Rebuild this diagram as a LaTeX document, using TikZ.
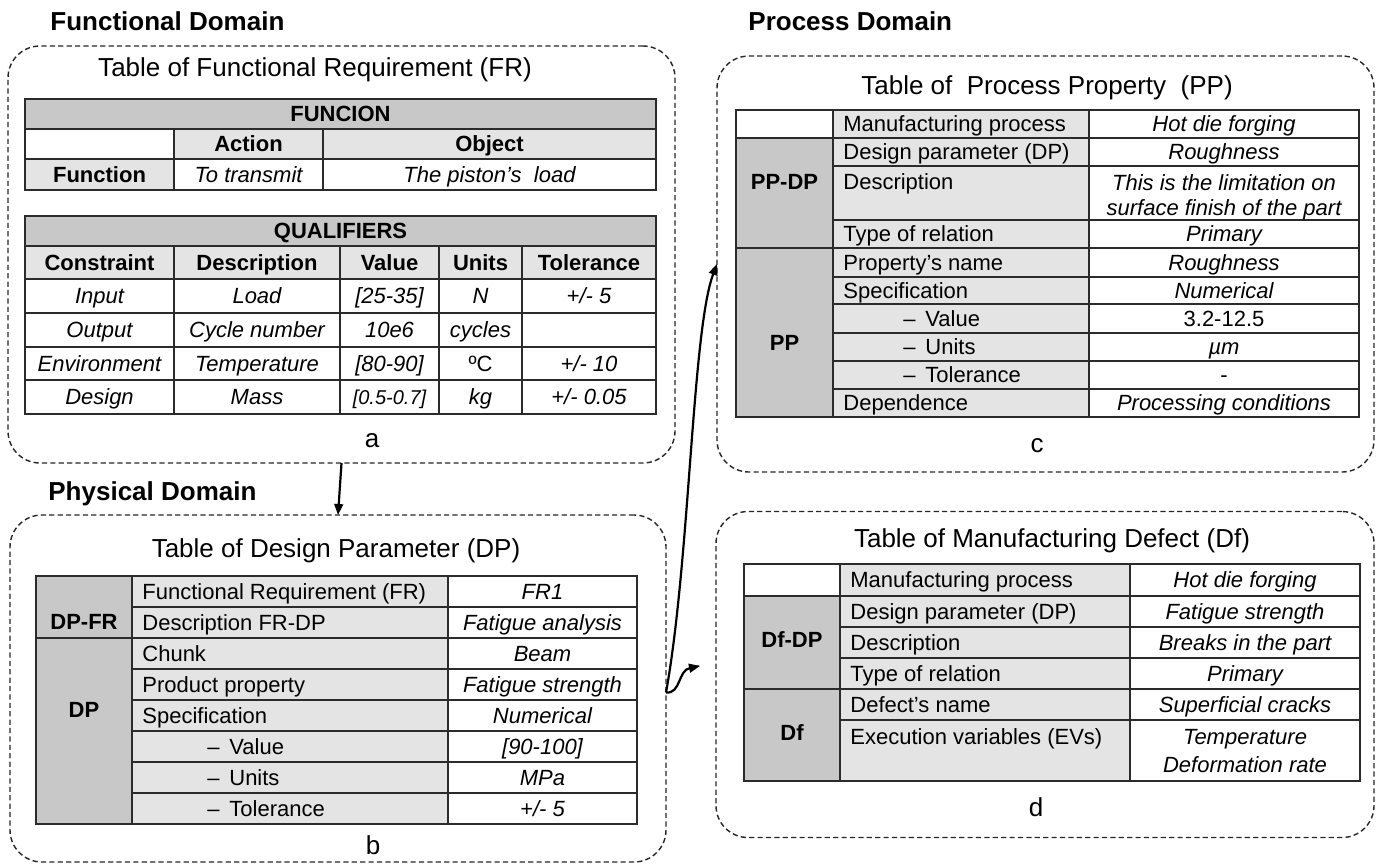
\documentclass[tikz,border=0pt]{standalone}
\usepackage{fontspec}
\setmainfont{Liberation Sans}
\usetikzlibrary{arrows.meta}

\definecolor{hdr}{HTML}{C8C8C8}
\definecolor{lab}{HTML}{E4E4E4}
\definecolor{ink}{HTML}{2B2B2B}

\tikzset{
  grid/.style={draw=ink, line width=0.7pt},
  dom/.style={draw=black!85, line width=0.7pt, dash pattern=on 2.6pt off 1.6pt,
              rounded corners=16pt, inner sep=0pt, outer sep=0pt},
  head/.style={font=\bfseries\fontsize{13}{15}\selectfont, anchor=west,
               inner sep=0pt, text height=9.3pt, text depth=0pt},
  ttl/.style={font=\fontsize{13}{15}\selectfont, inner sep=0pt,
              text height=9.3pt, text depth=0pt},
  letter/.style={font=\fontsize{13}{15}\selectfont, inner sep=0pt, anchor=base},
  tx/.style={font=\fontsize{11}{13}\selectfont, inner sep=0pt,
             text height=7.9pt, text depth=0pt},
  tb/.style={tx, font=\bfseries\fontsize{11}{13}\selectfont},
  ti/.style={tx, font=\itshape\fontsize{11}{13}\selectfont},
  tl/.style={tx, anchor=west},
  twoc/.style={font=\itshape\fontsize{11}{12.5}\selectfont, align=center, inner sep=0pt},
  twod/.style={font=\itshape\fontsize{11}{14}\selectfont, align=center, inner sep=0pt},
  arr/.style={-{Triangle[length=5.5pt,width=4.4pt]}, line width=1.1pt, draw=black},
}

% one table cell: fill colour, corners
\newcommand\cellrect[5]{\filldraw[grid,fill=#1] (#2,#3) rectangle (#4,#5);}
% indented sub-item label
\newcommand\dashitem[1]{\makebox[11pt][l]{–}#1}

\begin{document}
\begin{tikzpicture}[x=0.5pt, y=-0.5pt]
\useasboundingbox (0,0) rectangle (1379,864);

% ---------------- domain frames and headings ----------------
\node[dom, minimum width=333.5pt, minimum height=208.5pt] (boxa) at (341.5,254.5) {};
\node[dom, minimum width=328pt, minimum height=173.5pt] (boxb) at (338,688.5) {};
\node[dom, minimum width=328.5pt, minimum height=208pt] (boxc) at (1045.5,264) {};
\node[dom, minimum width=329pt, minimum height=163pt] (boxd) at (1045,674.5) {};

\node[head] (hFun) at (50,21) {Functional Domain};
\node[head] (hPhy) at (48,491) {Physical Domain};
\node[head] (hPro) at (748,21) {Process Domain};

% ---------------- (a) functional requirement ----------------
\node[ttl] (tA) at (315,67) {Table of Functional Requirement (FR)};

\cellrect{hdr}{25}{99}{656}{129}
\node[tb] (fnHead) at (340.5,114) {FUNCION};
\cellrect{white}{25}{129}{174}{159}
\cellrect{lab}{174}{129}{323}{159}
\node[tb] (fnAction) at (248.5,144) {Action};
\cellrect{lab}{323}{129}{656}{159}
\node[tb] (fnObject) at (489.5,144) {Object};
\cellrect{lab}{25}{159}{174}{190}
\node[tb] (fnFunction) at (99.5,174.5) {Function};
\cellrect{white}{174}{159}{323}{190}
\node[ti] (fnTransmit) at (248.5,174.5) {To transmit};
\cellrect{white}{323}{159}{656}{190}
\node[ti] (fnLoad) at (489.5,174.5) {The piston’s\ \ load};

\cellrect{hdr}{25}{216}{656}{246}
\node[tb] (qHead) at (340.5,231) {QUALIFIERS};
% header row
\cellrect{lab}{25}{246}{174}{279}
\cellrect{lab}{174}{246}{340}{279}
\cellrect{lab}{340}{246}{439}{279}
\cellrect{lab}{439}{246}{522}{279}
\cellrect{lab}{522}{246}{656}{279}
\node[tb] (qCon) at (99.5,262.5) {Constraint};
\node[tb] (qDes) at (257,262.5) {Description};
\node[tb] (qVal) at (389.5,262.5) {Value};
\node[tb] (qUni) at (480.5,262.5) {Units};
\node[tb] (qTol) at (589,262.5) {Tolerance};
% data rows
\foreach \ya/\yb in {279/313, 313/347, 347/380, 380/414}{
  \cellrect{white}{25}{\ya}{174}{\yb}
  \cellrect{white}{174}{\ya}{340}{\yb}
  \cellrect{white}{340}{\ya}{439}{\yb}
  \cellrect{white}{439}{\ya}{522}{\yb}
  \cellrect{white}{522}{\ya}{656}{\yb}
}
\node[ti] (q1a) at (99.5,296) {Input};
\node[ti] (q1b) at (257,296) {Load};
\node[ti] (q1c) at (389.5,296) {[25-35]};
\node[ti] (q1d) at (480.5,296) {N};
\node[ti] (q1e) at (589,296) {+/- 5};
\node[ti] (q2a) at (99.5,330) {Output};
\node[ti] (q2b) at (257,330) {Cycle number};
\node[ti] (q2c) at (389.5,330) {10e6};
\node[ti] (q2d) at (480.5,330) {cycles};
\node[ti] (q3a) at (99.5,363.5) {Environment};
\node[ti] (q3b) at (257,363.5) {Temperature};
\node[ti] (q3c) at (389.5,363.5) {[80-90]};
\node[tx] (q3d) at (480.5,363.5) {ºC};
\node[ti] (q3e) at (589,363.5) {+/- 10};
\node[ti] (q4a) at (99.5,397) {Design};
\node[ti] (q4b) at (257,397) {Mass};
\node[ti, font=\itshape\fontsize{10}{12}\selectfont, text height=7.2pt] (q4c) at (389.5,397) {[0.5-0.7]};
\node[ti] (q4d) at (480.5,397) {kg};
\node[ti] (q4e) at (589,397) {+/- 0.05};

\node[letter] (lA) at (372,447) {a};

% ---------------- (b) design parameter ----------------
\node[ttl] (tB) at (336,548) {Table of Design Parameter (DP)};

\cellrect{hdr}{36}{576}{132}{638}
\cellrect{hdr}{36}{638}{132}{824}
\node[tb] (bDPFR) at (84,622) {DP-FR};
\node[tb] (bDP) at (84,710) {DP};
\foreach \ya/\yb in {576/607, 607/638, 638/669, 669/700, 700/731, 731/762, 762/793, 793/824}{
  \cellrect{lab}{132}{\ya}{448}{\yb}
  \cellrect{white}{448}{\ya}{637}{\yb}
}
\node[tl] (b1l) at (142,591.5) {Functional Requirement (FR)};
\node[tl] (b2l) at (142,622.5) {Description FR-DP};
\node[tl] (b3l) at (142,653.5) {Chunk};
\node[tl] (b4l) at (142,684.5) {Product property};
\node[tl] (b5l) at (142,715.5) {Specification};
\node[tl] (b6l) at (207,746.5) {\dashitem{Value}};
\node[tl] (b7l) at (207,777.5) {\dashitem{Units}};
\node[tl] (b8l) at (207,808.5) {\dashitem{Tolerance}};
\node[ti] (b1v) at (542.5,591.5) {FR1};
\node[ti] (b2v) at (542.5,622.5) {Fatigue analysis};
\node[ti] (b3v) at (542.5,653.5) {Beam};
\node[ti] (b4v) at (542.5,684.5) {Fatigue strength};
\node[ti] (b5v) at (542.5,715.5) {Numerical};
\node[ti] (b6v) at (542.5,746.5) {[90-100]};
\node[ti] (b7v) at (542.5,777.5) {MPa};
\node[ti] (b8v) at (542.5,808.5) {+/- 5};

\node[letter] (lB) at (373,854) {b};

% ---------------- (c) process property ----------------
\node[ttl] (tC) at (1047,85) {Table of\ \ Process Property\ \ (PP)};

\cellrect{white}{736}{110}{833}{138}
\cellrect{hdr}{736}{138}{833}{248}
\cellrect{hdr}{736}{248}{833}{417}
\node[tb] (cPPDP) at (784.5,182) {PP-DP};
\node[tb] (cPP) at (784.5,343) {PP};
\foreach \ya/\yb in {110/138, 138/166, 166/220, 220/248, 248/277, 277/304, 304/333, 333/361, 361/389, 389/417}{
  \cellrect{lab}{833}{\ya}{1089}{\yb}
  \cellrect{white}{1089}{\ya}{1359}{\yb}
}
\node[tl] (c1l) at (843,124) {Manufacturing process};
\node[tl] (c2l) at (843,152) {Design parameter (DP)};
\node[tl] (c3l) at (843,182) {Description};
\node[tl] (c4l) at (843,234) {Type of relation};
\node[tl] (c5l) at (843,262.5) {Property’s name};
\node[tl] (c6l) at (843,290.5) {Specification};
\node[tl] (c7l) at (903,318.5) {\dashitem{Value}};
\node[tl] (c8l) at (903,347) {\dashitem{Units}};
\node[tl] (c9l) at (903,375) {\dashitem{Tolerance}};
\node[tl] (c10l) at (843,403) {Dependence};
\node[ti] (c1v) at (1224,124) {Hot die forging};
\node[ti] (c2v) at (1224,152) {Roughness};
\node[twoc] (c3v) at (1224,197) {This is the limitation on\\surface finish of the part};
\node[ti] (c4v) at (1224,234) {Primary};
\node[ti] (c5v) at (1224,262.5) {Roughness};
\node[ti] (c6v) at (1224,290.5) {Numerical};
\node[tx] (c7v) at (1224,318.5) {3.2-12.5};
\node[ti] (c8v) at (1224,347) {µm};
\node[tx] (c9v) at (1224,375) {-};
\node[ti] (c10v) at (1224,403) {Processing conditions};

\node[letter] (lC) at (1037,452) {c};

% ---------------- (d) manufacturing defect ----------------
\node[ttl] (tD) at (1052,538) {Table of Manufacturing Defect (Df)};

\cellrect{white}{744}{564}{840}{596}
\cellrect{hdr}{744}{596}{840}{689}
\cellrect{hdr}{744}{689}{840}{781}
\node[tb] (dDfDP) at (792,640) {Df-DP};
\node[tb] (dDf) at (792,733) {Df};
\foreach \ya/\yb in {564/596, 596/627, 627/658, 658/689, 689/720, 720/781}{
  \cellrect{lab}{840}{\ya}{1130}{\yb}
  \cellrect{white}{1130}{\ya}{1360}{\yb}
}
\node[tl] (d1l) at (850,580) {Manufacturing process};
\node[tl] (d2l) at (850,611.5) {Design parameter (DP)};
\node[tl] (d3l) at (850,642.5) {Description};
\node[tl] (d4l) at (850,673.5) {Type of relation};
\node[tl] (d5l) at (850,704.5) {Defect’s name};
\node[tl] (d6l) at (850,737) {Execution variables (EVs)};
\node[ti] (d1v) at (1245,580) {Hot die forging};
\node[ti] (d2v) at (1245,611.5) {Fatigue strength};
\node[ti] (d3v) at (1245,642.5) {Breaks in the part};
\node[ti] (d4v) at (1245,673.5) {Primary};
\node[ti] (d5v) at (1245,704.5) {Superficial cracks};
\node[twod] (d6v) at (1245,751) {Temperature\\Deformation rate};

\node[letter] (lD) at (1036,816) {d};

% ---------------- connectors ----------------
\coordinate (dtip) at (700,666);
\draw[arr] (boxa.south) -- (boxb.north);
\draw[arr] ([yshift=-2pt]boxb.east) .. controls (690,560) and (692,330) .. (boxc.west);
\draw[arr] ([yshift=-2pt]boxb.east) .. controls (681,694) and (678,670) .. (690,668) -- (dtip);

\end{tikzpicture}
\end{document}
